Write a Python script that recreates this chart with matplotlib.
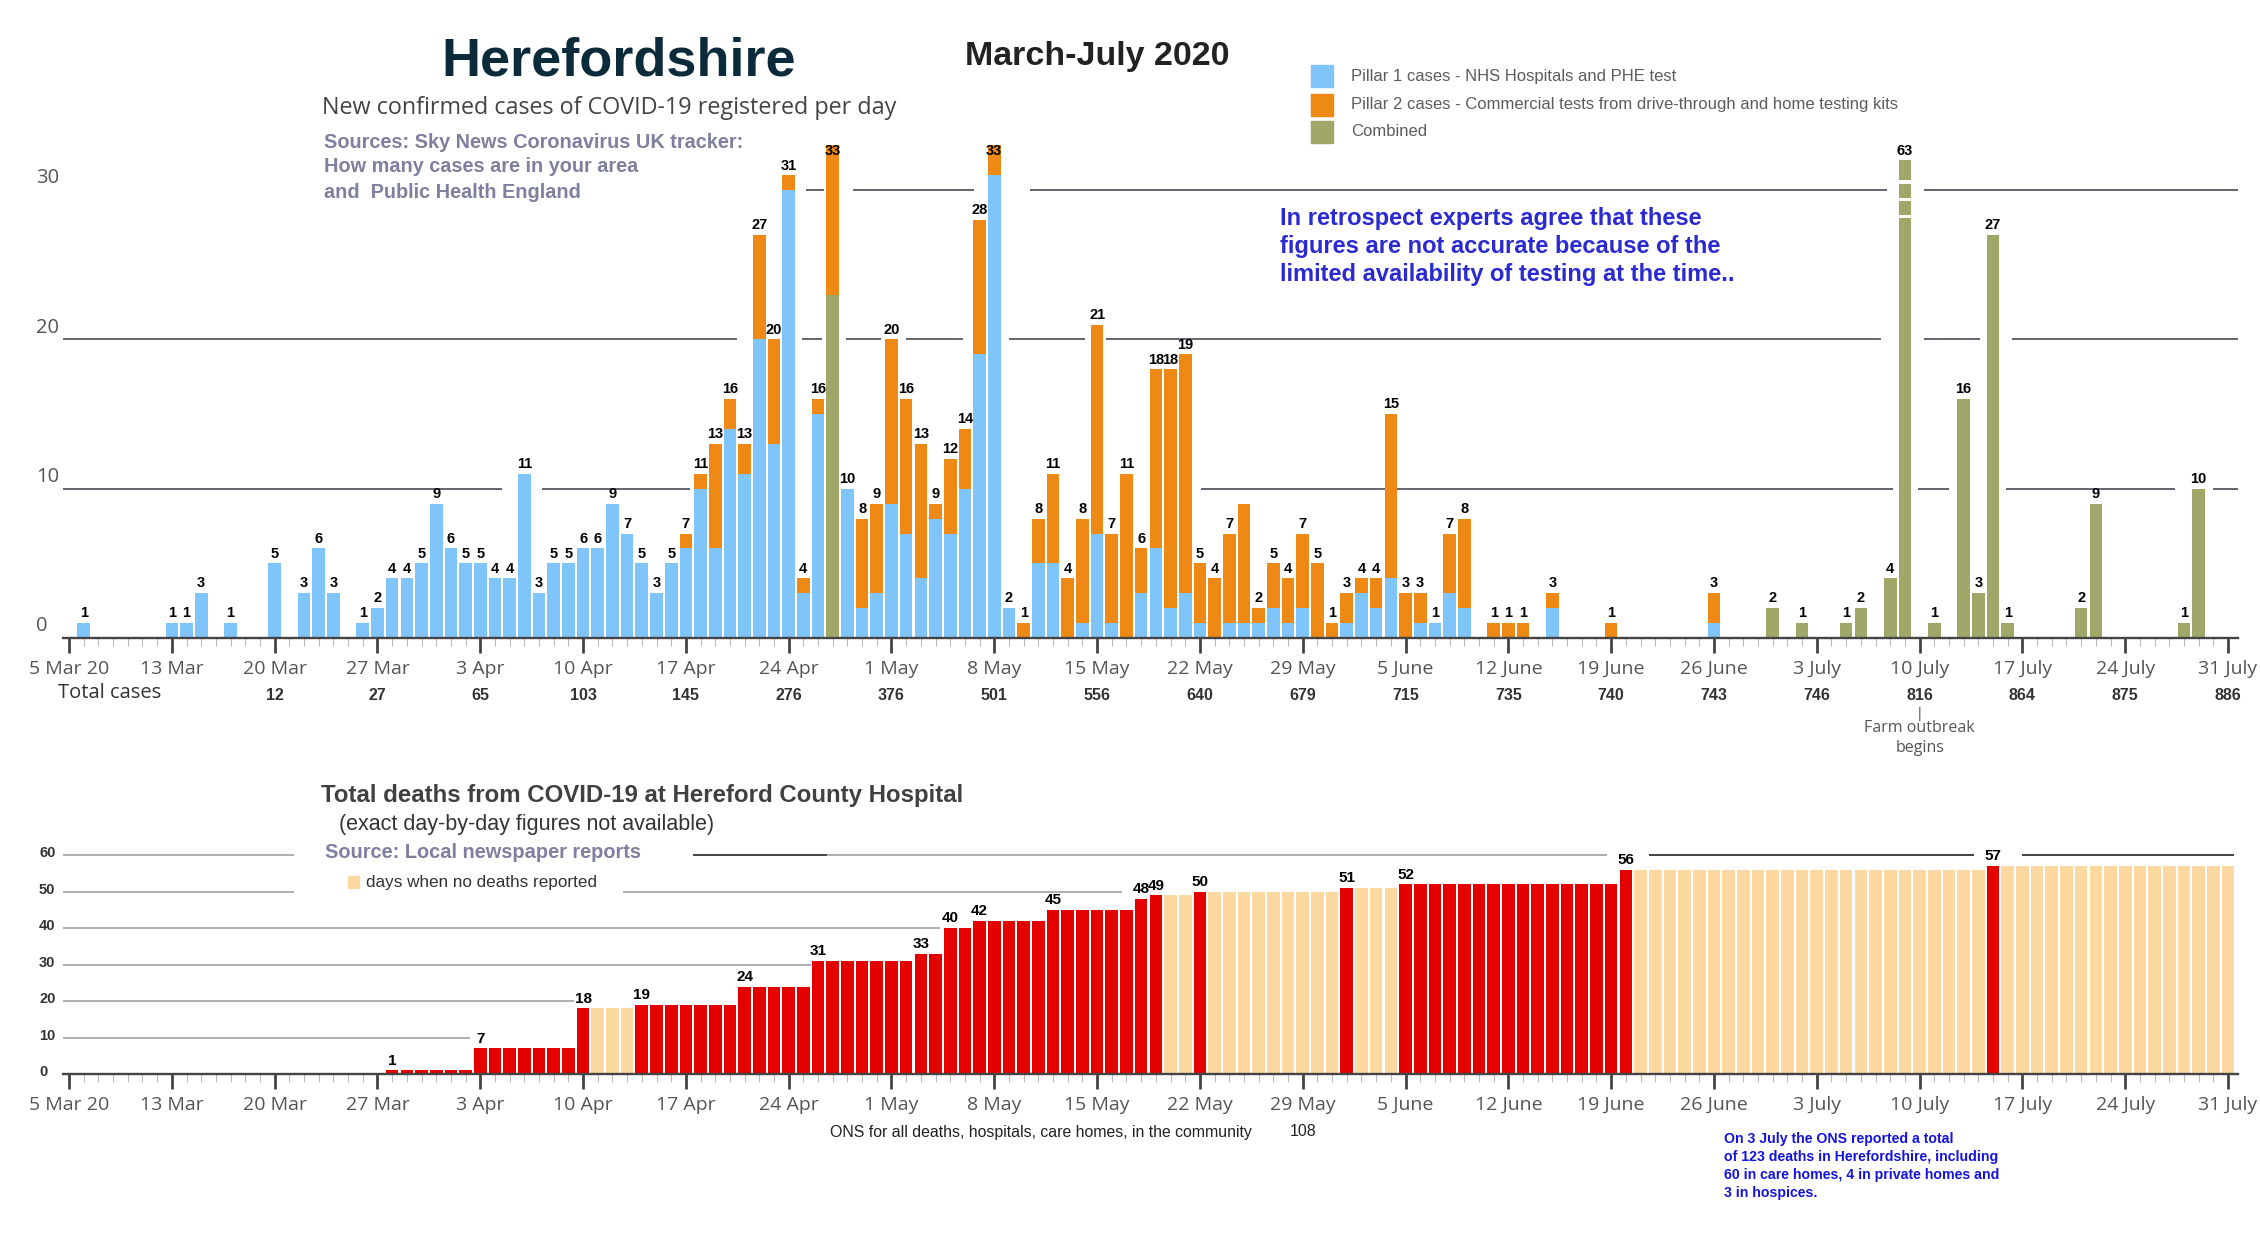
import matplotlib.pyplot as plt
from matplotlib.patches import Rectangle
import numpy as np

plt.rcParams['font.family'] = ['Liberation Sans', 'DejaVu Sans']

W, H = 2260, 1250
N_DAYS = 148  # day 0 is the first weekly tick ("5 Mar 20"), day 147 is "31 July"

week_labels = ["5 Mar 20", "13 Mar", "20 Mar", "27 Mar", "3 Apr", "10 Apr", "17 Apr",
               "24 Apr", "1 May", "8 May", "15 May", "22 May", "29 May", "5 June",
               "12 June", "19 June", "26 June", "3 July", "10 July", "17 July",
               "24 July", "31 July"]

# running totals printed under the weekly ticks, from 20 Mar onwards
total_cases = [12, 27, 65, 103, 145, 276, 376, 501, 556, 640, 679, 715, 735, 740,
               743, 746, 816, 864, 875, 886]

# new cases per day, by series (day index, value)
pillar1_days = [1, 7, 8, 9, 11, 14, 16, 17, 18, 20, 21, 22, 23, 24, 25, 26, 27, 28, 29, 30,
                31, 32, 33, 34, 35, 36, 37, 38, 39, 40, 41, 42, 43, 44, 45, 46, 47, 48, 49,
                50, 51, 53, 54, 55, 56, 57, 58, 59, 60, 61, 62, 63, 64, 66, 67, 69, 70, 71,
                73, 74, 75, 76, 77, 79, 80, 81, 82, 83, 84, 87, 88, 89, 90, 92, 93, 94, 95,
                101, 112]
pillar1_values = [1, 1, 1, 3, 1, 5, 3, 6, 3, 1, 2, 4, 4, 5, 9, 6, 5, 5, 4, 4,
                  11, 3, 5, 5, 6, 6, 9, 7, 5, 3, 5, 6, 10, 6, 14, 11, 20, 13, 30,
                  3, 15, 10, 2, 3, 9, 7, 4, 8, 7, 10, 19, 31, 2, 5, 5, 1, 7, 1,
                  3, 6, 2, 3, 1, 1, 1, 1, 2, 1, 2, 1, 3, 2, 4, 1, 1, 3, 2,
                  2, 1]

pillar2_days = [42, 43, 44, 45, 46, 47, 48, 49, 50, 51, 52, 54, 55, 56, 57, 58, 59, 60, 61,
                62, 63, 65, 66, 67, 68, 69, 70, 71, 72, 73, 74, 75, 76, 77, 78, 79, 80, 81,
                82, 83, 84, 85, 86, 87, 88, 89, 90, 91, 92, 94, 95, 97, 98, 99, 101, 105,
                112]
pillar2_values = [1, 1, 7, 2, 2, 7, 7, 1, 1, 1, 10, 6, 6, 11, 9, 9, 1, 5, 4,
                  9, 2, 1, 3, 6, 4, 7, 14, 6, 11, 3, 12, 16, 16, 4, 4, 6, 8, 1,
                  3, 3, 5, 5, 1, 2, 1, 2, 11, 3, 2, 4, 6, 1, 1, 1, 1, 1,
                  2]

combined_days = [52, 116, 118, 121, 122, 124, 125, 127, 129, 130, 131, 132, 137, 138, 144, 145]
combined_values = [23, 2, 1, 1, 2, 4, 63, 1, 16, 3, 27, 1, 2, 9, 1, 10]

unlabeled_days = [80]

# total deaths at Hereford County Hospital: day a new total was reported, and the total
death_step_days = [22, 28, 35, 39, 46, 51, 58, 60, 62, 67, 73, 74, 77, 87, 91, 106, 131]
death_step_totals = [1, 7, 18, 19, 24, 31, 33, 40, 42, 45, 48, 49, 50, 51, 52, 56, 57]
no_report_ranges = [(36, 38), (75, 76), (78, 86), (88, 90), (107, 130), (132, 147)]

BLUE = '#80c5f9'
ORANGE = '#ee8916'
GREEN = '#a1a769'
RED = '#e50000'
PALE = '#fdd9a1'
NARROW = ['Liberation Sans Narrow', 'Liberation Sans', 'DejaVu Sans']
SKY = ['Open Sans', 'DejaVu Sans']


def fx(px):
    return px / W


def fy(py):
    return 1 - py / H


days = np.arange(N_DAYS)
p1 = np.zeros(N_DAYS)
p1[pillar1_days] = pillar1_values
p2 = np.zeros(N_DAYS)
p2[pillar2_days] = pillar2_values
comb = np.zeros(N_DAYS)
comb[combined_days] = combined_values

cap = 32  # the farm outbreak bar is cut off here
comb_shown = np.minimum(comb, cap)
totals = p1 + p2 + comb

fig = plt.figure(figsize=(22.6, 12.5), dpi=100)
fig.patch.set_facecolor('white')

# ---------------- top chart: cases ----------------
ax = fig.add_axes([fx(63), fy(638), fx(2175), 500 / H])
ax.set_xlim(-0.41, 147.68)
ax.set_ylim(0, 33.5)

grid_top = {
    10: [(-0.4, 29.5), (32.2, 42.3), (77.1, 124.2), (125.9, 128.0), (131.9, 143.4), (146.0, 147.7)],
    20: [(-0.4, 45.5), (49.9, 51.3), (52.9, 55.3), (57.0, 60.9), (64.0, 69.2), (70.6, 123.4),
         (126.3, 130.1), (132.3, 147.7)],
    30: [(50.2, 51.4), (53.4, 61.6), (65.4, 123.8), (126.3, 147.7)],
}
for level, segs in grid_top.items():
    for a, b in segs:
        ax.plot([a, b], [level, level], color='#3b3b4b', lw=1.1, zorder=1,
                solid_capstyle='butt')

bw = 0.86
ax.bar(days, p1, bw, color=BLUE, zorder=2)
ax.bar(days, comb_shown, bw, bottom=p1, color=GREEN, zorder=2)
ax.bar(days, p2, bw, bottom=p1 + comb_shown, color=ORANGE, zorder=2)

# break marks on the cut bar
for d in days[comb > cap]:
    for off in (1.55, 2.75, 3.85):
        ax.bar(d, 0.22, bw + 0.1, bottom=cap - off, color='white', zorder=3)

for d in days[totals > 0]:
    if d in unlabeled_days:
        continue
    ax.annotate(str(int(totals[d])), (d, min(totals[d], cap)), xytext=(0, 2),
                textcoords='offset points', ha='center', va='bottom', fontsize=10.5,
                fontweight='bold', family=NARROW, color='black', zorder=4)


def style_xaxis(a):
    a.set_xticks(np.arange(0, N_DAYS, 7))
    a.set_xticklabels(week_labels)
    a.set_xticks(days, minor=True)
    a.tick_params(axis='x', which='major', length=11, width=2, color='#444', pad=5,
                  labelsize=14, labelcolor='#555')
    a.tick_params(axis='x', which='minor', length=6, width=0.8, color='#bbb')
    for lab in a.get_xticklabels():
        lab.set_family(SKY)
    a.set_yticks([])
    for s in ('left', 'right', 'top'):
        a.spines[s].set_visible(False)
    a.spines['bottom'].set_color('#444')
    a.spines['bottom'].set_linewidth(1.7)
    a.set_facecolor('none')


style_xaxis(ax)

for v in (0, 10, 20, 30):
    ax.text(-0.0124, v + 0.8, str(v), transform=ax.get_yaxis_transform(), ha='left',
            va='center', fontsize=14.5, color='#555', family=SKY)

for i, t in enumerate(total_cases):
    ax.text((i + 2) * 7, -0.114, str(t), transform=ax.get_xaxis_transform(), ha='center',
            va='center', fontsize=11.5, fontweight='bold', color='#333')
fig.text(fx(58), fy(693), 'Total cases', ha='left', va='center', fontsize=14.5, color='#333',
         family=SKY)

ax.text(126, -0.152, '|', transform=ax.get_xaxis_transform(), ha='center', va='center',
        fontsize=10, color='#555')
ax.text(126, -0.2, 'Farm outbreak\nbegins', transform=ax.get_xaxis_transform(), ha='center',
        va='center', fontsize=11.5, color='#555', linespacing=1.3, family=SKY)

# titles and notes for top chart
fig.text(fx(619), fy(75), 'Herefordshire', ha='center', va='baseline', fontsize=39,
         fontweight='bold', color='#0b2b3a')
fig.text(fx(965), fy(65), 'March-July 2020', ha='left', va='baseline', fontsize=24.5,
         fontweight='bold', color='#222')
fig.text(fx(322), fy(114), 'New confirmed cases of COVID-19 registered per day', ha='left',
         va='baseline', fontsize=16.8, color='#444', family=SKY)
src_lines = ['Sources: Sky News Coronavirus UK tracker:', 'How many cases are in your area',
             'and  Public Health England']
for line, yb in zip(src_lines, (148, 172, 198)):
    fig.text(fx(324), fy(yb), line, ha='left', va='baseline', fontsize=14.3, fontweight='bold',
             color='#7f7fa0')

legend_items = [(BLUE, 'Pillar 1 cases - NHS Hospitals and PHE test'),
                (ORANGE, 'Pillar 2 cases - Commercial tests from drive-through and home testing kits'),
                (GREEN, 'Combined')]
for (col, lab), top in zip(legend_items, (65, 94, 121)):
    fig.patches.append(Rectangle((fx(1311), fy(top + 22)), fx(22), 22 / H, color=col,
                                 transform=fig.transFigure, figure=fig))
    fig.text(fx(1351), fy(top + 11), lab, ha='left', va='center', fontsize=12, color='#5c5c5c')

note_lines = ['In retrospect experts agree that these',
              'figures are not accurate because of the',
              'limited availability of testing at the time..']
for line, yb in zip(note_lines, (225, 253, 281)):
    fig.text(fx(1280), fy(yb), line, ha='left', va='baseline', fontsize=17, fontweight='bold',
             color='#2a2ad0')

# ---------------- bottom chart: deaths ----------------
deaths = np.zeros(N_DAYS)
for d, v in zip(death_step_days, death_step_totals):
    deaths[d:] = v
no_report = np.zeros(N_DAYS, dtype=bool)
for a, b in no_report_ranges:
    no_report[a:b + 1] = True
death_colors = [PALE if nr else RED for nr in no_report]

ax2 = fig.add_axes([fx(63), fy(1074), fx(2175), 226 / H])
ax2.set_xlim(-0.41, 147.68)
ax2.set_ylim(0, 62)

grid_bottom = {
    10: [(-0.4, 27.3, '#999')],
    20: [(-0.4, 34.4, '#999')],
    30: [(-0.4, 50.5, '#999')],
    40: [(-0.4, 59.3, '#999')],
    50: [(-0.4, 15.3, '#999'), (37.7, 71.7, '#999')],
    60: [(-0.4, 15.3, '#999'), (42.5, 51.6, '#111'), (51.6, 104.7, '#999'),
         (107.6, 129.7, '#111'), (133.0, 147.4, '#111')],
}
for level, segs in grid_bottom.items():
    for a, b, col in segs:
        ax2.plot([a, b], [level, level], color=col, lw=1.1, zorder=1, solid_capstyle='butt')

ax2.bar(days, deaths, bw, color=death_colors, zorder=2)
for d, v in zip(death_step_days, death_step_totals):
    ax2.annotate(str(v), (d, v), xytext=(0, 2), textcoords='offset points', ha='center',
                 va='bottom', fontsize=11, fontweight='bold', family=NARROW, color='black')

style_xaxis(ax2)
for v in range(0, 61, 10):
    ax2.text(-0.011, v + 0.5, str(v), transform=ax2.get_yaxis_transform(), ha='left',
             va='center', fontsize=10.5, fontweight='bold', color='#333')

fig.text(fx(321), fy(802), 'Total deaths from COVID-19 at Hereford County Hospital', ha='left',
         va='baseline', fontsize=17.3, fontweight='bold', color='#404040')
fig.text(fx(339), fy(830), '(exact day-by-day figures not available)', ha='left',
         va='baseline', fontsize=15.5, color='#333')
fig.text(fx(325), fy(858), 'Source: Local newspaper reports', ha='left', va='baseline',
         fontsize=14.4, fontweight='bold', color='#7f7fa0')
fig.patches.append(Rectangle((fx(348), fy(888)), fx(11), 12 / H, color=PALE,
                             transform=fig.transFigure, figure=fig))
fig.text(fx(366), fy(882), 'days when no deaths reported', ha='left', va='center',
         fontsize=12.3, color='#333')

fig.text(fx(830), fy(1132), 'ONS for all deaths, hospitals, care homes, in the community',
         ha='left', va='center', fontsize=11.4, color='#222')
fig.text(fx(1303), fy(1132), '108', ha='center', va='center', fontsize=11.4, color='#222')

ons_lines = ['On 3 July the ONS reported a total',
             'of 123 deaths in Herefordshire, including',
             '60 in care homes, 4 in private homes and',
             '3 in hospices.']
for line, yc in zip(ons_lines, (1139, 1157, 1175, 1193)):
    fig.text(fx(1724), fy(yc), line, ha='left', va='center', fontsize=10.2, fontweight='bold',
             color='#1414dc', family=NARROW)

fig.savefig('out.png', dpi=100, facecolor='white')
